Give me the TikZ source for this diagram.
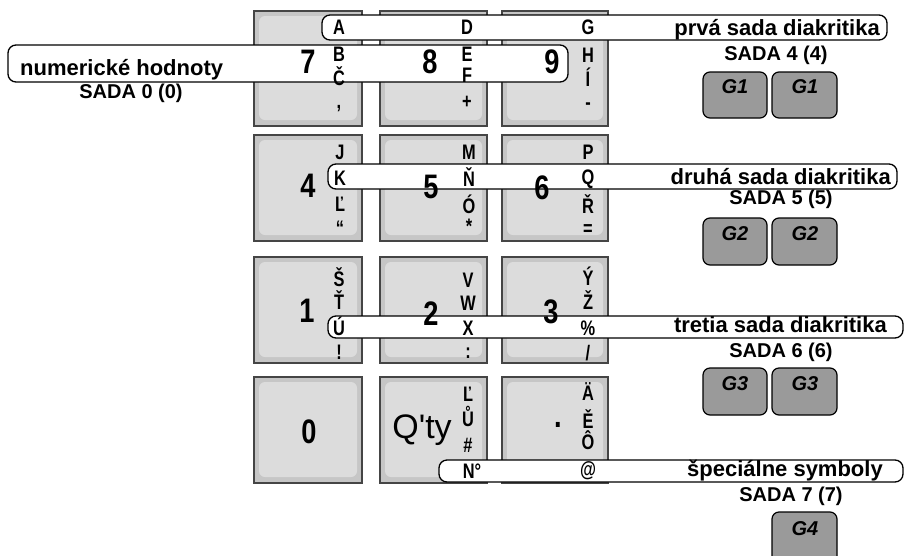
\documentclass[tikz,border=0pt]{standalone}
\usepackage{fontspec}
\setmainfont{Liberation Sans}
\newfontfamily\qtyfont{Liberation Sans}[Ligatures=TeXOff]
\definecolor{keyfill}{HTML}{C6C6C6}
\definecolor{keyface}{HTML}{DCDCDC}
\definecolor{keyedge}{HTML}{454545}
\definecolor{gfill}{HTML}{9A9A9A}
\begin{document}
\begin{tikzpicture}[x=1pt,y=-1pt,
        key/.style={fill=keyfill,draw=keyedge,line width=1.4pt},
        face/.style={fill=keyface,rounded corners=6pt},
        band/.style={fill=white,draw=black,line width=1.3pt,rounded corners=8pt},
        gkey/.style={fill=gfill,draw=black,line width=1.2pt,rounded corners=7pt},
        digit/.style={font=\bfseries\fontsize{34}{34}\selectfont,xscale=0.8,inner sep=0pt},
        chr/.style={font=\bfseries\fontsize{21}{21}\selectfont,xscale=0.78,inner sep=0pt},
        bandtext/.style={font=\bfseries\fontsize{22}{22}\selectfont,inner sep=0pt},
        sada/.style={font=\bfseries\fontsize{20}{20}\selectfont,inner sep=0pt},
        gtext/.style={font=\bfseries\itshape\fontsize{20}{20}\selectfont,inner sep=0pt}]
\useasboundingbox (0,0) rectangle (905,555);
\clip (0,0) rectangle (905,555);

% keys
\draw[key] (254,11) rectangle (362,126);  \fill[face] (259,16) rectangle (357,120);
\draw[key] (380,11) rectangle (487,126);  \fill[face] (385,16) rectangle (482,120);
\draw[key] (502,11) rectangle (608,126);  \fill[face] (507,16) rectangle (603,120);
\draw[key] (254,135) rectangle (362,241); \fill[face] (259,140) rectangle (357,235);
\draw[key] (380,135) rectangle (487,241); \fill[face] (385,140) rectangle (482,235);
\draw[key] (502,135) rectangle (608,241); \fill[face] (507,140) rectangle (603,235);
\draw[key] (254,257) rectangle (362,363); \fill[face] (259,262) rectangle (357,357);
\draw[key] (380,257) rectangle (487,363); \fill[face] (385,262) rectangle (482,357);
\draw[key] (502,257) rectangle (608,363); \fill[face] (507,262) rectangle (603,357);
\draw[key] (254,377) rectangle (362,483); \fill[face] (259,382) rectangle (357,477);
\draw[key] (380,377) rectangle (487,483); \fill[face] (385,382) rectangle (482,477);
\draw[key] (502,377) rectangle (608,483); \fill[face] (507,382) rectangle (603,477);

% bands
\draw[band] (322,15) rectangle (887,40);
\draw[band] (8,45) rectangle (568,82);
\draw[band] (328,164) rectangle (897,189);
\draw[band] (328,316) rectangle (903,338);
\draw[band] (439,460) rectangle (903,482);

\node[bandtext,anchor=base east] (set4) at (880,35) {prvá sada diakritika};
\node[bandtext,anchor=base west] (set0) at (20,75) {numerické hodnoty};
\node[bandtext,anchor=base east] (set5) at (891,184) {druhá sada diakritika};
\node[bandtext,anchor=base east] (set6) at (887,332) {tretia sada diakritika};
\node[bandtext,anchor=base east] (set7) at (883,476) {špeciálne symboly};

\node[sada] (sada0) at (131,93)  {SADA 0 (0)};
\node[sada] (sada4) at (776,55)  {SADA 4 (4)};
\node[sada] (sada5) at (781,199) {SADA 5 (5)};
\node[sada] (sada6) at (781,352) {SADA 6 (6)};
\node[sada] (sada7) at (791,496) {SADA 7 (7)};

% digits
\node[digit] (n7) at (308,62)  {7};
\node[digit] (n8) at (430,62)  {8};
\node[digit] (n9) at (552,62)  {9};
\node[digit] (n4) at (308,186) {4};
\node[digit] (n5) at (431,187) {5};
\node[digit] (n6) at (542,188) {6};
\node[digit] (n1) at (307,311) {1};
\node[digit] (n2) at (431,314) {2};
\node[digit] (n3) at (551,312) {3};
\node[digit] (n0) at (309,432) {0};
\node[digit] (ndot) at (558,425) {.};
\node[font=\qtyfont\fontsize{34}{34}\selectfont,inner sep=0pt] (qty) at (422,430) {Q'ty};

% letters
\node[chr] (k7a) at (339,27)  {A};
\node[chr] (k7b) at (339,54)  {B};
\node[chr] (k7c) at (339,76)  {Č};
\node[chr] (k7d) at (339,109) {,};
\node[chr] (k8a) at (467,27)  {D};
\node[chr] (k8b) at (467,54)  {E};
\node[chr] (k8c) at (467,75)  {F};
\node[chr] (k8d) at (467,102) {+};
\node[chr] (k9a) at (588,27)  {G};
\node[chr] (k9b) at (588,55)  {H};
\node[chr] (k9c) at (588,77)  {Í};
\node[chr] (k9d) at (588,106) {-};

\node[chr] (k4a) at (340,152) {J};
\node[chr] (k4b) at (340,178) {K};
\node[chr] (k4c) at (340,204) {Ľ};
\node[chr] (k4d) at (340,228) {“};
\node[chr] (k5a) at (469,152) {M};
\node[chr] (k5b) at (469,177) {Ň};
\node[chr] (k5c) at (469,204) {Ó};
\node[chr] (k5d) at (469,226) {*};
\node[chr] (k6a) at (588,152) {P};
\node[chr] (k6b) at (588,179) {Q};
\node[chr] (k6c) at (588,204) {Ř};
\node[chr] (k6d) at (588,230) {=};

\node[chr] (k1a) at (339,277) {Š};
\node[chr] (k1b) at (339,300) {Ť};
\node[chr] (k1c) at (339,326) {Ú};
\node[chr] (k1d) at (339,352) {!};
\node[chr] (k2a) at (468,280) {V};
\node[chr] (k2b) at (468,303) {W};
\node[chr] (k2c) at (468,328) {X};
\node[chr] (k2d) at (468,353) {:};
\node[chr] (k3a) at (588,276) {Ý};
\node[chr] (k3b) at (588,300) {Ž};
\node[chr] (k3c) at (588,328) {\%};
\node[chr] (k3d) at (588,353) {/};

\node[chr] (kqa) at (468,394) {Ľ};
\node[chr] (kqb) at (468,416) {Ů};
\node[chr] (kqc) at (468,445) {\#};
\node[chr] (kqd) at (472,471) {N°};
\node[chr] (kda) at (588,392) {Ä};
\node[chr] (kdb) at (588,419) {Ě};
\node[chr] (kdc) at (588,440) {Ô};
\node[chr] (kdd) at (588,471) {@};

% G keys
\draw[gkey] (703,72) rectangle (767,118);
\draw[gkey] (772,72) rectangle (837,118);
\draw[gkey] (703,218) rectangle (767,265);
\draw[gkey] (772,218) rectangle (837,265);
\draw[gkey] (703,368) rectangle (767,415);
\draw[gkey] (772,368) rectangle (837,415);
\draw[gkey] (772,512) rectangle (837,570);
\node[gtext] (g1a) at (735,87)  {G1};
\node[gtext] (g1b) at (805,87)  {G1};
\node[gtext] (g2a) at (735,234) {G2};
\node[gtext] (g2b) at (805,234) {G2};
\node[gtext] (g3a) at (735,384) {G3};
\node[gtext] (g3b) at (805,384) {G3};
\node[gtext] (g4)  at (805,529) {G4};
\end{tikzpicture}
\end{document}
